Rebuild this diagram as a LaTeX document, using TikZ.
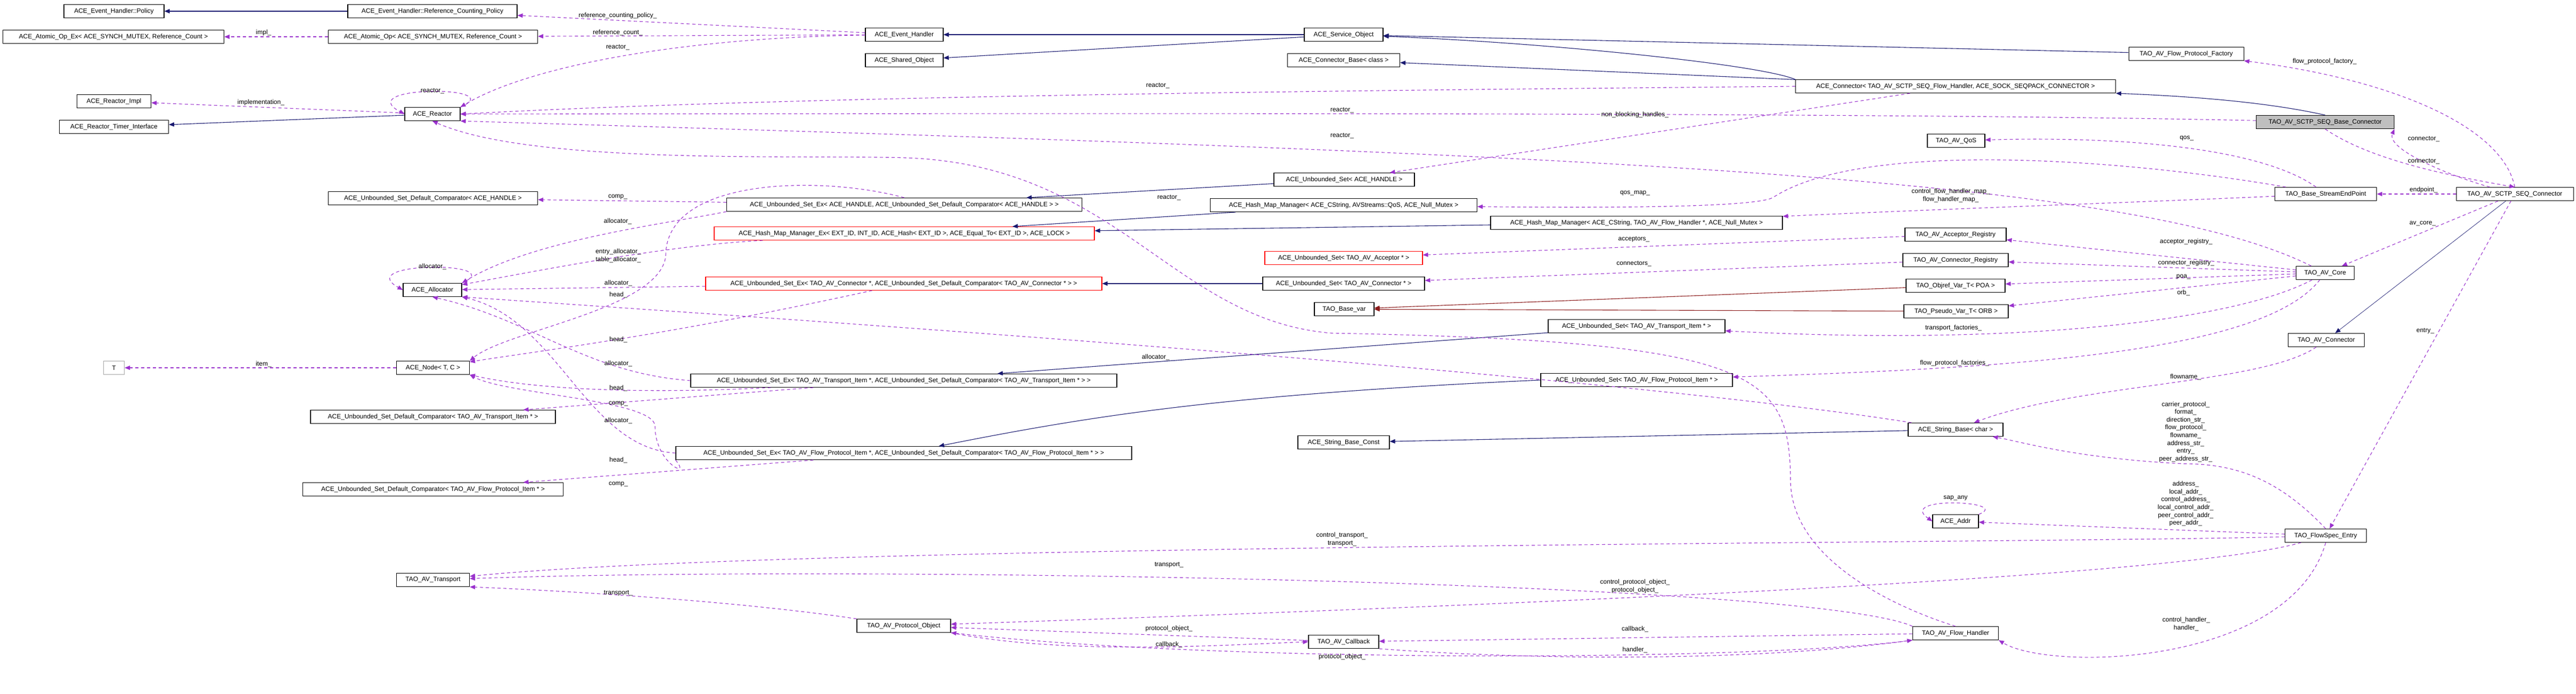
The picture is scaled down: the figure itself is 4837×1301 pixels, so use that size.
\documentclass[tikz,border=0pt]{standalone}
\usepackage{fontspec}
\setmainfont{Liberation Sans}
\usetikzlibrary{arrows.meta}
\definecolor{inhc}{HTML}{191970}
\definecolor{usec}{HTML}{9A32CD}
\definecolor{tplc}{HTML}{8B1A1A}
\tikzset{
 box/.style={draw=black,line width=1.1pt,minimum height=25pt,inner xsep=3pt,inner ysep=1pt,font=\fontsize{12}{14}\selectfont,fill=white},
 redbox/.style={box,draw=red},
 inh/.style={draw=inhc,line width=1.1pt,-{Triangle[length=10pt,width=8pt]}},
 tpl/.style={draw=tplc,line width=1.1pt,-{Triangle[length=10pt,width=8pt]}},
 use/.style={draw=usec,line width=1.1pt,dash pattern=on 6pt off 5pt,-{Triangle[length=10pt,width=8pt]}},
 lbl/.style={font=\fontsize{12}{14.6}\selectfont,align=center,inner sep=0pt}
}
\begin{document}
\begin{tikzpicture}[x=1pt,y=-1pt]
\useasboundingbox (0,0) rectangle (4837,1301);
% nodes
\node[box,minimum width=188] (pol) at (214,21) {ACE\_Event\_Handler::Policy};
\node[box,minimum width=318] (rcp) at (812,21) {ACE\_Event\_Handler::Reference\_Counting\_Policy};
\node[box,minimum width=415] (aopex) at (213,69) {ACE\_Atomic\_Op\_Ex< ACE\_SYNCH\_MUTEX, Reference\_Count >};
\node[box,minimum width=393] (aop) at (813,69) {ACE\_Atomic\_Op< ACE\_SYNCH\_MUTEX, Reference\_Count >};
\node[box,minimum width=139] (rimpl) at (214,190) {ACE\_Reactor\_Impl};
\node[box,minimum width=104] (react) at (812,214) {ACE\_Reactor};
\node[box,minimum width=205] (rtimer) at (214,238) {ACE\_Reactor\_Timer\_Interface};
\node[box,minimum width=393] (dch) at (813,372) {ACE\_Unbounded\_Set\_Default\_Comparator< ACE\_HANDLE >};
\node[box,minimum width=146] (evh) at (1698,65) {ACE\_Event\_Handler};
\node[box,minimum width=146] (shobj) at (1698,113) {ACE\_Shared\_Object};
\node[box,minimum width=667] (usexh) at (1698,384) {ACE\_Unbounded\_Set\_Ex< ACE\_HANDLE, ACE\_Unbounded\_Set\_Default\_Comparator< ACE\_HANDLE > >};
\node[redbox,minimum width=714] (hmmex) at (1698,438) {ACE\_Hash\_Map\_Manager\_Ex< EXT\_ID, INT\_ID, ACE\_Hash< EXT\_ID >, ACE\_Equal\_To< EXT\_ID >, ACE\_LOCK >};
\node[box,minimum width=264] (ush) at (2524,337) {ACE\_Unbounded\_Set< ACE\_HANDLE >};
\node[box,minimum width=501] (hmmq) at (2523,385) {ACE\_Hash\_Map\_Manager< ACE\_CString, AVStreams::QoS, ACE\_Null\_Mutex >};
\node[box,minimum width=148] (svc) at (2523,65) {ACE\_Service\_Object};
\node[box,minimum width=211] (cbase) at (2523,113) {ACE\_Connector\_Base< class >};
\node[box,minimum width=548] (hmmf) at (3073,418) {ACE\_Hash\_Map\_Manager< ACE\_CString, TAO\_AV\_Flow\_Handler *, ACE\_Null\_Mutex >};
\node[box,minimum width=601] (acon) at (3672,162) {ACE\_Connector< TAO\_AV\_SCTP\_SEQ\_Flow\_Handler, ACE\_SOCK\_SEQPACK\_CONNECTOR >};
\node[box,minimum width=108] (qos) at (3673,264) {TAO\_AV\_QoS};
\node[box,minimum width=216] (fpf) at (4105,101) {TAO\_AV\_Flow\_Protocol\_Factory};
\node[box,minimum width=259,fill=gray!50] (bcon) at (4366,229) {TAO\_AV\_SCTP\_SEQ\_Base\_Connector};
\node[box,minimum width=191] (sep) at (4367,364) {TAO\_Base\_StreamEndPoint};
\node[box,minimum width=220] (sctp) at (4722,364) {TAO\_AV\_SCTP\_SEQ\_Connector};
\node[box,minimum width=110] (alloc) at (812,544) {ACE\_Allocator};
\node[box,draw=gray!70,minimum width=39] (T) at (214,690) {T};
\node[box,minimum width=137] (node) at (813,690) {ACE\_Node< T, C >};
\node[box,minimum width=460] (dct) at (813,782) {ACE\_Unbounded\_Set\_Default\_Comparator< TAO\_AV\_Transport\_Item * >};
\node[redbox,minimum width=744] (usexc) at (1697,532) {ACE\_Unbounded\_Set\_Ex< TAO\_AV\_Connector *, ACE\_Unbounded\_Set\_Default\_Comparator< TAO\_AV\_Connector * > >};
\node[box,minimum width=800] (usext) at (1697,714) {ACE\_Unbounded\_Set\_Ex< TAO\_AV\_Transport\_Item *, ACE\_Unbounded\_Set\_Default\_Comparator< TAO\_AV\_Transport\_Item * > >};
\node[box,minimum width=856] (usexf) at (1697,850) {ACE\_Unbounded\_Set\_Ex< TAO\_AV\_Flow\_Protocol\_Item *, ACE\_Unbounded\_Set\_Default\_Comparator< TAO\_AV\_Flow\_Protocol\_Item * > >};
\node[redbox,minimum width=296] (usacc) at (2523,484) {ACE\_Unbounded\_Set< TAO\_AV\_Acceptor * >};
\node[box,minimum width=304] (uscon) at (2523,532) {ACE\_Unbounded\_Set< TAO\_AV\_Connector * >};
\node[box,minimum width=112] (basevar) at (2524,580) {TAO\_Base\_var};
\node[box,minimum width=332] (ust) at (3073,612) {ACE\_Unbounded\_Set< TAO\_AV\_Transport\_Item * >};
\node[box,minimum width=360] (usf) at (3073,713) {ACE\_Unbounded\_Set< TAO\_AV\_Flow\_Protocol\_Item * >};
\node[box,minimum width=172] (sbc) at (2523,830) {ACE\_String\_Base\_Const};
\node[box,minimum width=178] (sbase) at (3672,806) {ACE\_String\_Base< char >};
\node[box,minimum width=190] (areg) at (3672,440) {TAO\_AV\_Acceptor\_Registry};
\node[box,minimum width=198] (creg) at (3672,488) {TAO\_AV\_Connector\_Registry};
\node[box,minimum width=186] (poa) at (3672,536) {TAO\_Objref\_Var\_T< POA >};
\node[box,minimum width=196] (orb) at (3673,584) {TAO\_Pseudo\_Var\_T< ORB >};
\node[box,minimum width=109] (core) at (4366,512) {TAO\_AV\_Core};
\node[box,minimum width=143] (avcon) at (4368,638) {TAO\_AV\_Connector};
\node[box,minimum width=489] (dcf) at (813,918) {ACE\_Unbounded\_Set\_Default\_Comparator< TAO\_AV\_Flow\_Protocol\_Item * >};
\node[box,minimum width=137] (trans) at (813,1088) {TAO\_AV\_Transport};
\node[box,minimum width=176] (pobj) at (1697,1174) {TAO\_AV\_Protocol\_Object};
\node[box,minimum width=132] (cb) at (2523,1204) {TAO\_AV\_Callback};
\node[box,minimum width=86] (addr) at (3672,978) {ACE\_Addr};
\node[box,minimum width=161] (fh) at (3672,1188) {TAO\_AV\_Flow\_Handler};
\node[box,minimum width=153] (fse) at (4367,1005) {TAO\_FlowSpec\_Entry};
% inheritance
\begin{scope}[on background layer/.style={}]
\draw[inh] (rcp) -- (pol);
\draw[inh] (react) -- (rtimer);
\draw[inh] (svc) -- (evh);
\draw[inh] (svc) -- (shobj);
\draw[inh] (fpf) -- (svc);
\draw[inh] (acon.north west) .. controls (3300,120) and (2900,80) .. (svc);
\draw[inh] (acon) -- (cbase);
\draw[inh] (bcon.north) .. controls (4250,190) and (4100,180) .. (acon.south east);
\draw[inh] (ush) -- (usexh);
\draw[inh] (hmmq) -- (hmmex);
\draw[inh] (hmmf) -- (hmmex);
\draw[inh] (uscon) -- (usexc);
\draw[inh] (ust) -- (usext);
\draw[inh] (usf.west) .. controls (2300,740) and (2050,780) .. (usexf);
\draw[inh] (sbase) -- (sbc);
\draw[inh,line width=0.7pt] (sctp) -- (avcon);
\draw[tpl] (poa) -- (basevar);
\draw[tpl] (orb) -- (basevar);
% usage
\draw[use] (evh) -- (rcp);
\draw[use] (evh) -- (aop);
\draw[use] (evh) .. controls (1300,70) and (1000,120) .. (react.north east);
\draw[use] (aop) -- (aopex);
\draw[use] (react) -- (rimpl);
\draw[use] (react.north east) .. controls (960,160) and (660,160) .. (react.west);
\draw[use] (acon.west) .. controls (2500,170) and (1500,180) .. (react.east);
\draw[use] (bcon) .. controls (3500,210) and (2000,213) .. (react);
\draw[use] (core) .. controls (4000,330) and (3000,290) .. (react.south east);
\draw[use] (fh.north) .. controls (3560,1140) and (3362,1050) .. (3362,900) .. controls (3360,700) and (3300,640) .. (2500,625) .. controls (2200,600) and (2100,310) .. (1700,296) .. controls (1500,290) and (1000,310) .. (react.south);
\draw[use] (acon) -- (ush);
\draw[use] (sep) .. controls (4000,380) and (3700,390) .. (hmmf);
\draw[use] (sep) .. controls (4000,300) and (3500,260) .. (3330,370) .. controls (3300,390) and (3000,390) .. (hmmq);
\draw[use] (sep) .. controls (4250,280) and (4000,255) .. (qos);
\draw[use] (sctp) -- (sep);
\draw[use] (sctp) .. controls (4600,330) and (4480,280) .. (bcon.south east);
\draw[use] (bcon.south) .. controls (4450,300) and (4600,330) .. (sctp.north);
\draw[use] (sctp.north) .. controls (4700,240) and (4500,150) .. (fpf.south east);
\draw[use] (sctp) -- (core);
\draw[use] (sctp) -- (fse);
\draw[use] (core) -- (areg);
\draw[use] (core) -- (creg);
\draw[use] (core) -- (poa);
\draw[use] (core) -- (orb);
\draw[use] (core) .. controls (4200,600) and (3800,650) .. (ust);
\draw[use] (core) .. controls (4250,660) and (3800,690) .. (usf);
\draw[use] (areg) -- (usacc);
\draw[use] (creg) -- (uscon);
\draw[use] (avcon) .. controls (4250,720) and (3900,720) .. (sbase);
\draw[use] (fse.north) .. controls (4280,900) and (4200,870) .. (4100,870) .. controls (3900,860) and (3800,830) .. (sbase);
\draw[use] (fse) -- (addr);
\draw[use] (addr.north east) .. controls (3780,940) and (3560,930) .. (addr.west);
\draw[use] (fse) .. controls (3800,1020) and (1500,1020) .. (trans);
\draw[use] (fse) .. controls (4100,1080) and (3000,1130) .. (pobj);
\draw[use] (fse.south) .. controls (4300,1250) and (3850,1260) .. (fh.south east);
\draw[use] (fh.north west) .. controls (3400,1090) and (1600,1060) .. (trans);
\draw[use] (pobj.north west) .. controls (1400,1130) and (1100,1110) .. (trans.south east);
\draw[use] (cb) -- (pobj);
\draw[use] (pobj.south east) .. controls (2000,1230) and (2300,1210) .. (cb.west);
\draw[use] (fh.south west) .. controls (3300,1240) and (2300,1245) .. (pobj.south east);
\draw[use] (fh) -- (cb);
\draw[use] (cb.south east) .. controls (2900,1240) and (3300,1240) .. (fh.south west);
\draw[use] (usexh) -- (dch);
\draw[use] (usexh.south west) .. controls (1250,420) and (1000,450) .. (alloc.north east);
\draw[use] (hmmex) .. controls (1250,460) and (1000,510) .. (alloc);
\draw[use] (alloc.north east) .. controls (960,490) and (660,490) .. (alloc.west);
\draw[use] (usexc) -- (alloc);
\draw[use] (sbase) .. controls (3000,700) and (1500,600) .. (alloc.south east);
\draw[use] (usext.west) .. controls (1100,700) and (1000,600) .. (alloc.south);
\draw[use] (usexf.west) .. controls (1100,840) and (1050,600) .. (alloc.south east);
\draw[use] (usexh.north) .. controls (1550,330) and (1250,330) .. (1250,480) .. controls (1240,580) and (950,620) .. (node.north east);
\draw[use] (usexc) .. controls (1250,630) and (1000,660) .. (node);
\draw[use] (usext) .. controls (1200,740) and (1000,730) .. (node.south east);
\draw[use] (usexf.south west) .. controls (1300,900) and (1230,870) .. (1230,800) .. controls (1230,750) and (950,740) .. (node.south east);
\draw[use] (node) -- (T);
\draw[use] (usext) -- (dct);
\draw[use] (usexf) -- (dcf);
\end{scope}
% labels
\foreach \p/\t in {
 {1160,29}/reference\_counting\_policy\_, {1160,61}/reference\_count\_, {1160,89}/reactor\_,
 {495,61}/impl\_, {490,192}/implementation\_, {812,171}/reactor\_, {2174,161}/reactor\_,
 {2520,207}/reactor\_, {3070,215}/non\_blocking\_handles\_, {2520,255}/reactor\_, {2195,371}/reactor\_,
 {3070,363}/qos\_map\_, {4106,260}/qos\_, {4365,115}/flow\_protocol\_factory\_, {4551,261}/connector\_,
 {4551,303}/connector\_, {4551,356}/endpoint\_, {4549,419}/av\_core\_, {4554,621}/entry\_,
 {4105,453}/acceptor\_registry\_, {4105,493}/connector\_registry\_, {4100,520}/poa\_, {4100,549}/orb\_,
 {3668,615}/transport\_factories\_, {3670,681}/flow\_protocol\_factories\_, {3068,449}/acceptors\_,
 {3068,495}/connectors\_, {4104,707}/flowname\_, {3672,935}/sap\_any,
 {2195,1060}/transport\_, {1161,1113}/transport\_, {2195,1179}/protocol\_object\_, {2195,1209}/callback\_,
 {3070,1180}/callback\_, {3070,1219}/handler\_, {2520,1232}/protocol\_object\_,
 {1160,370}/comp\_, {1160,415}/allocator\_, {812,500}/allocator\_, {1161,531}/allocator\_,
 {1161,553}/head\_, {1161,637}/head\_, {1161,682}/allocator\_, {1161,728}/head\_, {1161,758}/comp\_,
 {1161,789}/allocator\_, {1161,863}/head\_, {1161,909}/comp\_, {495,683}/item\_, {2170,670}/allocator\_}
 \node[lbl] at (\p) {\t};
\node[lbl] at (3663,367) {control\_flow\_handler\_map\_\\flow\_handler\_map\_};
\node[lbl] at (4104,810) {carrier\_protocol\_\\format\_\\direction\_str\_\\flow\_protocol\_\\flowname\_\\address\_str\_\\entry\_\\peer\_address\_str\_};
\node[lbl] at (4104,945) {address\_\\local\_addr\_\\control\_address\_\\local\_control\_addr\_\\peer\_control\_addr\_\\peer\_addr\_};
\node[lbl] at (2520,1012) {control\_transport\_\\transport\_};
\node[lbl] at (3070,1100) {control\_protocol\_object\_\\protocol\_object\_};
\node[lbl] at (4105,1171) {control\_handler\_\\handler\_};
\node[lbl] at (1161,480) {entry\_allocator\_\\table\_allocator\_};
\end{tikzpicture}
\end{document}
